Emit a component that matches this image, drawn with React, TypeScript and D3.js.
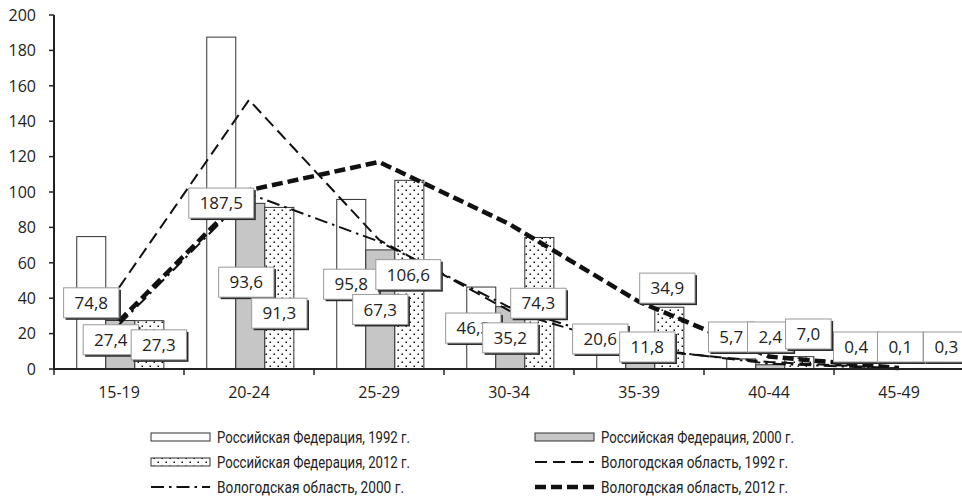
import React from 'react';
import * as d3 from 'd3';

const categories = ['15-19', '20-24', '25-29', '30-34', '35-39', '40-44', '45-49'];
const rf1992 = [74.8, 187.5, 95.8, 46.3, 20.6, 5.7, 0.4];
const rf2000 = [27.4, 93.6, 67.3, 35.2, 11.8, 2.4, 0.1];
const rf2012 = [27.3, 91.3, 106.6, 74.3, 34.9, 7.0, 0.3];
const vo1992 = [46, 152, 73, 33, 11, 4, 0.3];
const vo2000 = [25, 99, 72, 35, 12, 3, 0.2];
const vo2012 = [27, 101, 117, 82, 38, 7, 0.5];
const yTicks = [0, 20, 40, 60, 80, 100, 120, 140, 160, 180, 200];
const seriesNames = [
  'Российская Федерация, 1992 г.',
  'Российская Федерация, 2000 г.',
  'Российская Федерация, 2012 г.',
  'Вологодская область, 1992 г.',
  'Вологодская область, 2000 г.',
  'Вологодская область, 2012 г.',
];

// label nudges (layout only, px)
const labelNudge: [number, number][][] = [
  [[0, 0], [0, 0], [0, 0], [-8, 0], [-11, -8], [-10, -10], [-15, 0]],
  [[-9.5, -5], [-4, -4], [0, 0], [0, 0], [7, 0], [0, -10], [0, 0]],
  [[9.5, 0], [0, 25], [-1, 0], [-1, 0], [-2, -50], [9, -13], [17, 0]],
];

const W = 962;
const H = 500;
const fmt = (v: number) => v.toFixed(1).replace('.', ',');

export default function App() {
  const x = d3.scaleBand<string>().domain(categories).range([54, 964]);
  const sub = d3
    .scaleBand<string>()
    .domain(['0', '1', '2'])
    .range([x.bandwidth() * 0.175, x.bandwidth() * 0.845]);
  const y = d3.scaleLinear().domain([0, 200]).range([369, 15]);
  const cx = (c: string) => (x(c) as number) + x.bandwidth() / 2;

  const barSeries = [rf1992, rf2000, rf2012];
  const barFill = ['#ffffff', '#c6c6c6', 'url(#dots)'];
  const lineSeries = [vo1992, vo2000, vo2012];
  const lineStyle = [
    { w: 2, dash: '12,6' },
    { w: 2, dash: '13,5,2.5,5' },
    { w: 4.5, dash: '11,5' },
  ];

  const line = d3
    .line<number>()
    .x((_, i) => cx(categories[i]))
    .y((d) => y(d));

  const labels: { x: number; y: number; t: string }[] = [];
  barSeries.forEach((s, si) => {
    s.forEach((v, i) => {
      const c = categories[i];
      const bx = (x(c) as number) + (sub(String(si)) as number) + sub.bandwidth() / 2;
      const by = Math.min(y(v / 2), 347);
      labels.push({ x: bx + labelNudge[si][i][0], y: by + labelNudge[si][i][1], t: fmt(v) });
    });
  });

  const legendX = [151, 535];
  const legendY = [437, 462, 487];

  return (
    <svg
      width={W}
      height={H}
      style={{ position: 'fixed', left: 0, top: 0, background: '#fff' }}
      fontFamily="'Open Sans', sans-serif"
    >
      <defs>
        <pattern id="dots" width="8" height="8" patternUnits="userSpaceOnUse">
          <rect width="8" height="8" fill="#fff" />
          <rect x="1.5" y="1.5" width="1.5" height="1.5" fill="#111" />
          <rect x="5.5" y="5.5" width="1.5" height="1.5" fill="#111" />
        </pattern>
      </defs>
      <rect width={W} height={H} fill="#fff" />

      {/* bars */}
      {barSeries.map((s, si) =>
        s.map((v, i) => {
          const c = categories[i];
          return (
            <rect
              key={`b${si}-${i}`}
              x={(x(c) as number) + (sub(String(si)) as number)}
              y={y(v)}
              width={sub.bandwidth()}
              height={y(0) - y(v)}
              fill={barFill[si]}
              stroke="#333"
              strokeWidth={1}
            />
          );
        })
      )}

      {/* lines */}
      {lineSeries.map((s, si) => (
        <path
          key={`l${si}`}
          d={line(s) as string}
          fill="none"
          stroke="#111"
          strokeWidth={lineStyle[si].w}
          strokeDasharray={lineStyle[si].dash}
        />
      ))}

      {/* axes */}
      <line x1={54} x2={54} y1={15} y2={369} stroke="#222" strokeWidth={2} />
      {yTicks.map((t) => (
        <g key={`yt${t}`}>
          <line x1={49} x2={54} y1={y(t)} y2={y(t)} stroke="#222" strokeWidth={1.5} />
          <text x={36} y={y(t)} dy="0.36em" textAnchor="end" fontSize={16} fill="#222">
            {t}
          </text>
        </g>
      ))}
      <line x1={53} x2={962} y1={369} y2={369} stroke="#222" strokeWidth={2} />
      {categories.map((c) => (
        <g key={`xt${c}`}>
          <line x1={x(c) as number} x2={x(c) as number} y1={369} y2={375} stroke="#222" strokeWidth={1.5} />
          <text x={cx(c)} y={398} textAnchor="middle" fontSize={16} fill="#222">
            {c}
          </text>
        </g>
      ))}

      {/* data labels */}
      {labels.map((l, i) => {
        const w = l.t.length * 9.7 + 4.5;
        const bw = w + 12;
        const bh = 30;
        return (
          <g key={`lab${i}`}>
            <rect x={l.x - bw / 2 + 2} y={l.y - bh / 2 + 2} width={bw} height={bh} fill="#2a2a2a" />
            <rect x={l.x - bw / 2} y={l.y - bh / 2} width={bw} height={bh} fill="#fff" stroke="#999" strokeWidth={1} />
            <text x={l.x} y={l.y} dy="0.36em" textAnchor="middle" fontSize={17} fill="#222">
              {l.t}
            </text>
          </g>
        );
      })}

      {/* legend */}
      {seriesNames.map((n, k) => {
        const col = k % 2;
        const row = Math.floor(k / 2);
        const lx = legendX[col];
        const ly = legendY[row];
        let marker;
        if (k < 3) {
          marker = (
            <rect x={lx} y={ly - 4} width={59} height={8} fill={barFill[k]} stroke="#333" strokeWidth={1} />
          );
        } else {
          const ls = lineStyle[k - 3];
          marker = (
            <line
              x1={lx}
              x2={lx + 59}
              y1={ly}
              y2={ly}
              stroke="#111"
              strokeWidth={ls.w}
              strokeDasharray={ls.dash}
            />
          );
        }
        const tl = k === 0 || k === 1 || k === 2 ? 193 : 187;
        return (
          <g key={`lg${k}`}>
            {marker}
            <text
              x={lx + 66}
              y={ly}
              dy="0.36em"
              fontSize={16.5}
              fontFamily="'Liberation Sans Narrow', Roboto, sans-serif"
              textLength={tl}
              lengthAdjust="spacingAndGlyphs"
              fill="#222"
            >
              {n}
            </text>
          </g>
        );
      })}
    </svg>
  );
}
